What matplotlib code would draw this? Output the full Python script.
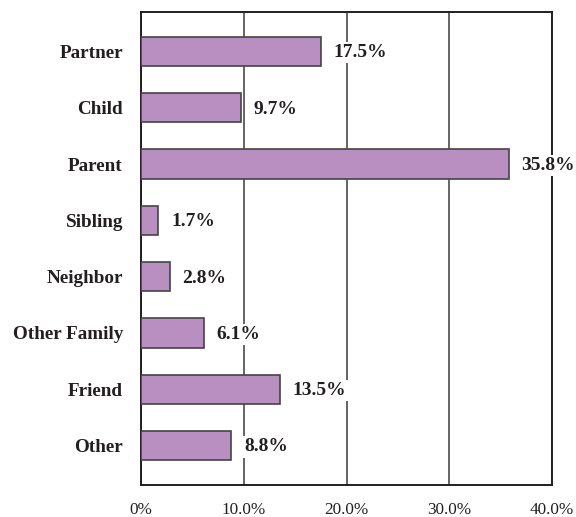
import matplotlib
matplotlib.use("Agg")
from matplotlib import pyplot as plt

# relationship categories and their shares (%)
categories = ["Partner", "Child", "Parent", "Sibling", "Neighbor", "Other Family", "Friend", "Other"]
values = [17.5, 9.7, 35.8, 1.7, 2.8, 6.1, 13.5, 8.8]
xticks = [0, 10, 20, 30, 40]
xtick_labels = ["0%", "10.0%", "20.0%", "30.0%", "40.0%"]

plt.rcParams["font.family"] = ["Liberation Serif", "DejaVu Serif"]

fig = plt.figure(figsize=(5.76, 5.17), dpi=100)
ax = fig.add_axes([141 / 576, 1 - 485 / 517, (552 - 141) / 576, (485 - 12) / 517])

pos = list(range(len(categories)))
ax.barh(pos, values, height=0.52, color="#b98fc1", edgecolor="#444444", linewidth=1.2, zorder=3)

# value labels, white box hides the gridline behind them
for p, v in zip(pos, values):
    ax.annotate(f"{v:.1f}%", xy=(v, p), xytext=(9, -1), textcoords="offset points",
                va="center", ha="left", fontsize=14, fontweight="bold", color="#231f20",
                zorder=4, annotation_clip=False,
                bbox=dict(facecolor="white", edgecolor="none", pad=1.5))

ax.set_xlim(0, 40)
ax.set_ylim(7.7, -0.7)
ax.set_yticks(pos)
ax.set_yticklabels(categories, fontsize=13.8, fontweight="bold", color="#231f20")
ax.set_xticks(xticks)
ax.set_xticklabels(xtick_labels, fontsize=12.3, color="#231f20")
ax.tick_params(axis="both", length=0)
ax.tick_params(axis="y", pad=13)
ax.tick_params(axis="x", pad=12)

ax.grid(axis="x", color="#3a3a3a", linewidth=1.1, zorder=1)
for s in ax.spines.values():
    s.set_linewidth(1.4)
    s.set_color("#231f20")

plt.savefig("out.png", dpi=100)
